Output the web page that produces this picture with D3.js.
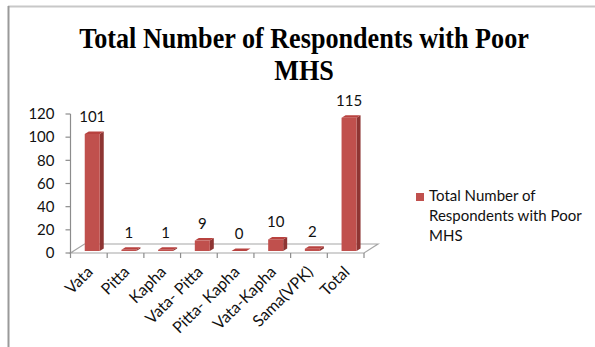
<!DOCTYPE html>
<html>
<head>
<meta charset="utf-8">
<script src="https://cdn.jsdelivr.net/npm/d3@7"></script>
<style>
  html, body { margin: 0; padding: 0; background: #fff; }
  svg { display: block; }
</style>
</head>
<body>
<svg id="chart" width="595" height="347"></svg>
<script>
// Respondents with poor mental health status, by Prakriti type
const categories = ["Vata", "Pitta", "Kapha", "Vata- Pitta", "Pitta- Kapha", "Vata-Kapha", "Sama(VPK)", "Total"];
const values = [101, 1, 1, 9, 0, 10, 2, 115];
const yTicks = [0, 20, 40, 60, 80, 100, 120];
const seriesName = "Total Number of Respondents with Poor MHS";
const titleLines = ["Total Number of Respondents with Poor", "MHS"];
const legendLines = ["Total Number of", "Respondents with Poor", "MHS"];

const svg = d3.select("#chart");
const uiFont = "Lato, 'Open Sans', sans-serif";

// outer frame
svg.append("line").attr("x1", 8).attr("x2", 595).attr("y1", 6.5).attr("y2", 6.5)
  .attr("stroke", "#c8c8c8").attr("stroke-width", 2);
svg.append("line").attr("x1", 8.5).attr("x2", 8.5).attr("y1", 6).attr("y2", 347)
  .attr("stroke", "#9a9a9a").attr("stroke-width", 2);

// title: two centred lines
const titleCx = 304, titleW = 450;
const title = svg.append("g")
  .attr("font-family", "'Liberation Serif', 'Times New Roman', serif")
  .attr("font-weight", "bold").attr("font-size", 30).attr("fill", "#000")
  .attr("text-anchor", "middle");
const t1 = title.append("text").attr("x", 0).attr("y", 48).text(titleLines[0]);
title.append("text").attr("x", 0).attr("y", 80).text(titleLines[1]);
const sx = titleW / t1.node().getComputedTextLength();
title.attr("transform", `translate(${titleCx},0) scale(${sx},1)`);

// scales
const x = d3.scaleBand().domain(categories).range([70.5, 364]).padding(0);
const y = d3.scaleLinear().domain([0, 120]).range([253, 114]);

// 3D floor depth and bar geometry
const floorDx = 14, floorDy = -9;
const barShiftX = 3.4, barShiftY = -2;   // bars sit a quarter into the floor
const barW = 15, barDx = 4, barDy = -2.5;

const axisColor = "#a6a6a6";

// floor
const x0 = x.range()[0], x1 = x.range()[1], y0 = y(0);
svg.append("path")
  .attr("d", `M${x0},${y0} L${x1},${y0} L${x1 + floorDx},${y0 + floorDy} L${x0 + floorDx},${y0 + floorDy} Z`)
  .attr("fill", "none").attr("stroke", axisColor).attr("stroke-width", 1.2);

// value axis
svg.append("line").attr("x1", x0).attr("x2", x0).attr("y1", y(120)).attr("y2", y0)
  .attr("stroke", "#8c8c8c").attr("stroke-width", 1.2);
const yAxis = svg.append("g").attr("font-family", uiFont).attr("font-size", 15).attr("fill", "#111");
yTicks.forEach(t => {
  yAxis.append("line").attr("x1", x0 - 5).attr("x2", x0).attr("y1", y(t)).attr("y2", y(t))
    .attr("stroke", "#8c8c8c").attr("stroke-width", 1.2);
  yAxis.append("text").attr("x", x0 - 16).attr("y", y(t)).attr("dy", "0.35em")
    .attr("text-anchor", "end").text(t);
});

// category axis ticks at band boundaries
const bounds = categories.map(c => x(c)).concat([x1]);
bounds.forEach(b => {
  svg.append("line").attr("x1", b).attr("x2", b).attr("y1", y0).attr("y2", y0 + 5)
    .attr("stroke", "#8c8c8c").attr("stroke-width", 1.2);
});

// category labels, rotated; the end of each label sits under its category
const xl = svg.append("g").attr("font-family", uiFont).attr("font-size", 16).attr("fill", "#111");
categories.forEach(c => {
  const cx = x(c) + x.bandwidth() / 2 + 1, cy = y0 + 16;
  xl.append("text").attr("transform", `translate(${cx},${cy}) rotate(-45)`)
    .attr("text-anchor", "end").attr("dy", "0.35em").text(c);
});

// bar heights use the same value scale, lifted by the floor depth
const hScale = v => y0 - y(v);

const bars = svg.append("g");
categories.forEach((c, i) => {
  const v = values[i];
  const cx = x(c) + x.bandwidth() / 2 + barShiftX;
  const left = cx - barW / 2, right = cx + barW / 2;
  const base = y0 + barShiftY;
  const top = base - hScale(v);
  // side face
  bars.append("path")
    .attr("d", `M${right},${base} L${right + barDx},${base + barDy} L${right + barDx},${top + barDy} L${right},${top} Z`)
    .attr("fill", "#8e3533");
  // front face
  bars.append("rect").attr("x", left).attr("y", top).attr("width", barW).attr("height", Math.max(0, base - top))
    .attr("fill", "#c0504d");
  // top face
  bars.append("path")
    .attr("d", `M${left},${top} L${right},${top} L${right + barDx},${top + barDy} L${left + barDx},${top + barDy} Z`)
    .attr("fill", "#b8423f");
  // value label
  bars.append("text").attr("x", cx).attr("y", top - 12)
    .attr("text-anchor", "middle").attr("font-family", uiFont).attr("font-size", 15).attr("fill", "#111")
    .text(v);
});

// legend
const lg = svg.append("g").attr("font-family", uiFont).attr("font-size", 15).attr("fill", "#111");
lg.append("rect").attr("x", 416).attr("y", 193).attr("width", 8).attr("height", 8).attr("fill", "#c0504d");
legendLines.forEach((t, i) => {
  lg.append("text").attr("x", 429).attr("y", 201 + i * 20).text(t);
});
</script>
</body>
</html>
